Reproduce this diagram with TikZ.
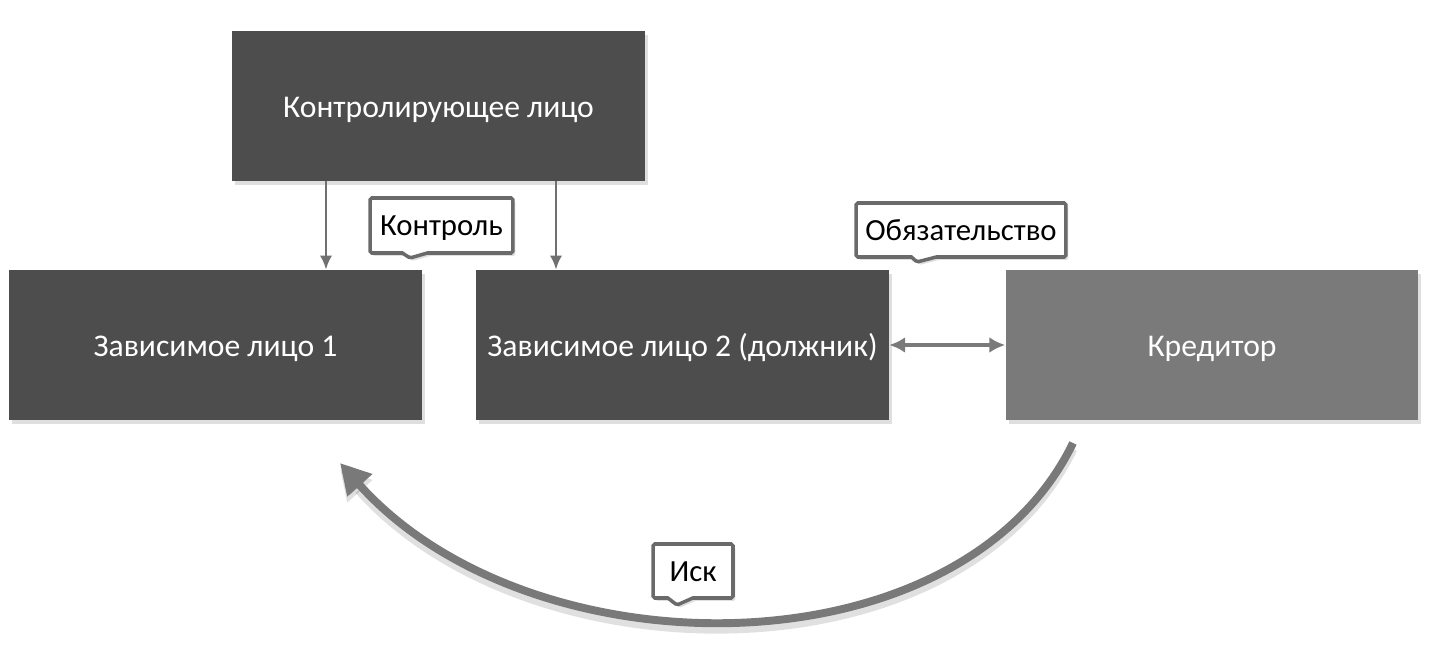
\documentclass[tikz,border=0pt]{standalone}
\usepackage{fontspec}
\setmainfont{Carlito}
\usepackage{tikz}
\usetikzlibrary{arrows.meta,shapes.callouts,shadows}

\definecolor{boxdark}{HTML}{4D4D4D}
\definecolor{boxlight}{HTML}{7A7A7A}
\definecolor{linegray}{HTML}{707070}
\definecolor{tipgray}{HTML}{6A6A6A}

\tikzset{
  party/.style={rectangle, fill=boxdark, text=white, minimum width=8.26cm,
    minimum height=3cm, font=\fontsize{18}{21}\selectfont,
    text height=13.5pt, text depth=0pt,
    drop shadow={shadow xshift=0.6mm, shadow yshift=-0.8mm, opacity=0.25}},
  tag/.style={rectangle callout, draw=tipgray, line width=2pt, fill=white,
    rounded corners=1pt, inner sep=4pt, font=\fontsize{17.5}{20}\selectfont,
    text height=11.5pt, text depth=0pt,
    callout pointer width=0.5cm,
    drop shadow={shadow xshift=0.5mm, shadow yshift=-0.6mm, opacity=0.25}},
  arr/.style={draw=linegray, line width=1.5pt, -{Latex[length=8pt,width=7pt]}},
}

\begin{document}
\begin{tikzpicture}[x=0.02cm, y=-0.02cm]
    \useasboundingbox (0, 0) rectangle (1441, 655);
    \begin{scope}
      % boxes
      \node[party] (ctrl) at (438.5, 106) {Контролирующее лицо};
      \node[party] (dep1) at (215.5, 345) {Зависимое лицо 1};
      \node[party] (dep2) at (682.5, 345) {Зависимое лицо 2 (должник)};
      \node[party, fill=boxlight] (cred) at (1212, 345) {Кредитор};

      % control arrows
      \draw[arr] (ctrl.south -| 326, 0) -- (dep1.north -| 326, 0);
      \draw[arr] (ctrl.south -| 556, 0) -- (dep2.north -| 556, 0);
      \draw[draw=boxlight, line width=2.2pt, {Latex[length=9pt,width=9pt]}-{Latex[length=9pt,width=9pt]}]
        (dep2.east) -- (cred.west);

      % claim
      \coordinate (claimstart) at (1073, 443);
      \coordinate (claimend) at (340, 463);
      \draw[draw=gray!95!black, line width=4.5pt, -{Triangle[length=17pt,width=18pt]},
        preaction={draw=black, opacity=0.12, line width=5pt, transform canvas={yshift=-1.2mm}}]
        (claimstart) .. controls (960, 676) and (530, 676) .. (claimend);

      % labels
      \node[tag, minimum width=2.86cm, minimum height=1.1cm,
        callout absolute pointer={(410, 258)}] (lcontrol) at (441.5, 225.5) {Контроль};
      \node[tag, minimum width=4.2cm, minimum height=1.08cm,
        callout absolute pointer={(917, 262)}] (lduty) at (961, 230) {Обязательство};
      \node[tag, minimum width=1.6cm, minimum height=1.08cm,
        callout absolute pointer={(677, 605)}] (lclaim) at (693, 571) {Иск};
    \end{scope}
  \end{tikzpicture}
\end{document}
